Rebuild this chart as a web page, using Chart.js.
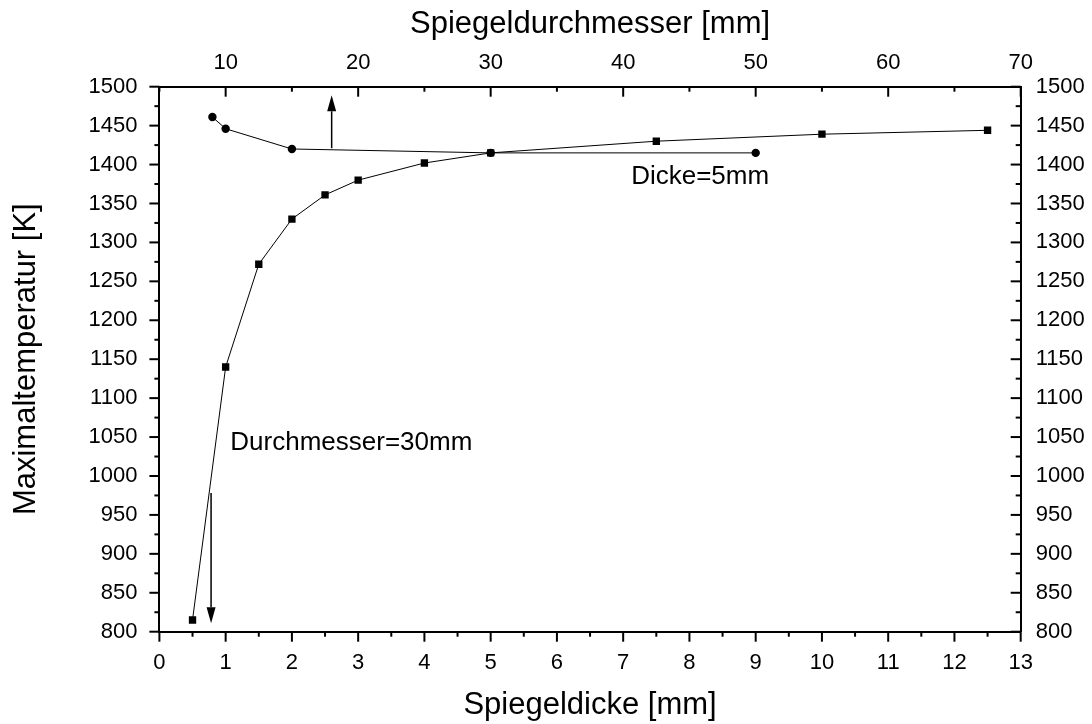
<!DOCTYPE html>
<html>
<head>
<meta charset="utf-8">
<script src="https://cdn.jsdelivr.net/npm/chart.js@4/dist/chart.umd.min.js"></script>
<style>
  html, body { margin: 0; padding: 0; background: #fff; }
  #wrap { width: 1092px; height: 724px; }
</style>
</head>
<body>
<div id="wrap"><canvas id="spiegel-temp"></canvas></div>
<script>
// Spiegeldicke [mm] -> Maximaltemperatur [K], Durchmesser fest 30 mm
const dickeValues = [0.5, 1, 1.5, 2, 2.5, 3, 4, 5, 7.5, 10, 12.5];
const dickeTemps = [815, 1140, 1272, 1330, 1361, 1380, 1402, 1415, 1430, 1439, 1444];

// Spiegeldurchmesser [mm] -> Maximaltemperatur [K], Dicke fest 5 mm
const durchmesserValues = [9, 10, 15, 30, 50];
const durchmesserTemps = [1461, 1446, 1420, 1415, 1415];

const tempRange = [800, 1500];
const dickeRange = [0, 13];
const durchmesserRange = [5, 70];

// arrows pointing each curve to its x axis
const arrows = [
  { axis: 'x', x: 0.78, from: 978, to: 811 },
  { axis: 'x2', x: 18, from: 1421, to: 1489 }
];
const notes = [
  { text: 'Durchmesser=30mm', axis: 'x', x: 1.07, y: 1042 },
  { text: 'Dicke=5mm', axis: 'x', x: 7.12, y: 1384 }
];

const FONT = '"Liberation Sans", Arial, sans-serif';

// origin-style tick marks: bottom/left outward, top/right inward, with minor ticks
const axisDeco = {
  id: 'axisDeco',
  afterDraw(chart) {
    const ctx = chart.ctx;
    const area = chart.chartArea;
    const s = chart.scales;
    ctx.save();
    ctx.strokeStyle = '#000';
    ctx.fillStyle = '#000';
    ctx.lineWidth = 2;

    const marks = [
      { id: 'x', major: 1, minor: 0.5, side: 'bottom' },
      { id: 'x2', major: 10, minor: 5, side: 'top' },
      { id: 'y', major: 50, minor: 25, side: 'left' },
      { id: 'y2', major: 50, minor: 25, side: 'right' }
    ];
    marks.forEach(m => {
      const sc = s[m.id];
      for (let v = sc.min; v <= sc.max + 1e-9; v += m.minor) {
        const q = v / m.major;
        const len = Math.abs(q - Math.round(q)) < 1e-6 ? 10 : 5;
        const p = sc.getPixelForValue(v);
        ctx.beginPath();
        if (m.side === 'bottom') { ctx.moveTo(p, area.bottom); ctx.lineTo(p, area.bottom + len); }
        if (m.side === 'top') { ctx.moveTo(p, area.top); ctx.lineTo(p, area.top + len); }
        if (m.side === 'left') { ctx.moveTo(area.left, p); ctx.lineTo(area.left - len, p); }
        if (m.side === 'right') { ctx.moveTo(area.right, p); ctx.lineTo(area.right - len, p); }
        ctx.stroke();
      }
    });

    // arrows
    ctx.lineWidth = 1.5;
    arrows.forEach(a => {
      const px = s[a.axis].getPixelForValue(a.x);
      const y0 = s.y.getPixelForValue(a.from);
      const y1 = s.y.getPixelForValue(a.to);
      const dir = Math.sign(y1 - y0);
      const head = 16;
      ctx.beginPath();
      ctx.moveTo(px, y0);
      ctx.lineTo(px, y1 - dir * head);
      ctx.stroke();
      ctx.beginPath();
      ctx.moveTo(px, y1);
      ctx.lineTo(px - 4.5, y1 - dir * head);
      ctx.lineTo(px + 4.5, y1 - dir * head);
      ctx.closePath();
      ctx.fill();
    });

    // annotations
    ctx.font = '26px ' + FONT;
    ctx.textBaseline = 'middle';
    ctx.textAlign = 'left';
    notes.forEach(n => {
      ctx.fillText(n.text, s[n.axis].getPixelForValue(n.x), s.y.getPixelForValue(n.y));
    });
    ctx.restore();
  }
};

const tickFont = { family: FONT, size: 22 };
const titleFont = { family: FONT, size: 31 };
const noGrid = { display: false, drawTicks: false };
const axisBorder = { display: true, color: '#000', width: 2 };
const plain = v => String(v);

new Chart(document.getElementById('spiegel-temp'), {
  type: 'scatter',
  data: {
    datasets: [
      {
        label: 'Durchmesser=30mm',
        data: dickeValues.map((x, i) => ({ x, y: dickeTemps[i] })),
        xAxisID: 'x', yAxisID: 'y',
        showLine: true,
        borderColor: '#000', borderWidth: 1,
        backgroundColor: '#000',
        pointStyle: 'rect', pointRadius: 5.2, pointHoverRadius: 5.2,
        pointBorderWidth: 0
      },
      {
        label: 'Dicke=5mm',
        data: durchmesserValues.map((x, i) => ({ x, y: durchmesserTemps[i] })),
        xAxisID: 'x2', yAxisID: 'y',
        showLine: true,
        borderColor: '#000', borderWidth: 1,
        backgroundColor: '#000',
        pointStyle: 'circle', pointRadius: 4.2, pointHoverRadius: 4.2,
        pointBorderWidth: 0
      }
    ]
  },
  options: {
    responsive: true,
    maintainAspectRatio: false,
    animation: false,
    layout: { padding: 0 },
    plugins: { legend: { display: false }, tooltip: { enabled: false } },
    scales: {
      x: {
        type: 'linear', position: 'bottom',
        min: dickeRange[0], max: dickeRange[1],
        grid: noGrid, border: axisBorder,
        ticks: { stepSize: 1, font: tickFont, color: '#000', padding: 18, maxRotation: 0, autoSkip: false, callback: plain },
        title: { display: true, text: 'Spiegeldicke [mm]', font: titleFont, color: '#000', padding: { top: 0, bottom: 0 } },
        afterFit(scale) { scale.height = 92.3; }
      },
      x2: {
        type: 'linear', position: 'top',
        min: durchmesserRange[0], max: durchmesserRange[1],
        grid: noGrid, border: axisBorder,
        ticks: {
          stepSize: 10, includeBounds: false, font: tickFont, color: '#000', padding: 11,
          maxRotation: 0, autoSkip: false,
          callback: v => (v % 10 === 0 ? String(v) : '')
        },
        title: { display: true, text: 'Spiegeldurchmesser [mm]', font: titleFont, color: '#000', padding: { top: 6, bottom: 0 } },
        afterFit(scale) { scale.height = 86.7; }
      },
      y: {
        type: 'linear', position: 'left',
        min: tempRange[0], max: tempRange[1],
        grid: noGrid, border: axisBorder,
        ticks: { stepSize: 50, font: tickFont, color: '#000', padding: 22, autoSkip: false, callback: plain },
        title: { display: true, text: 'Maximaltemperatur [K]', font: titleFont, color: '#000', padding: { top: 8, bottom: 0 } },
        afterFit(scale) { scale.width = 159.4; }
      },
      y2: {
        type: 'linear', position: 'right',
        min: tempRange[0], max: tempRange[1],
        grid: noGrid, border: axisBorder,
        ticks: { stepSize: 50, font: tickFont, color: '#000', padding: 15, autoSkip: false, callback: plain },
        afterFit(scale) { scale.width = 71.3; }
      }
    }
  },
  plugins: [axisDeco]
});
</script>
</body>
</html>
